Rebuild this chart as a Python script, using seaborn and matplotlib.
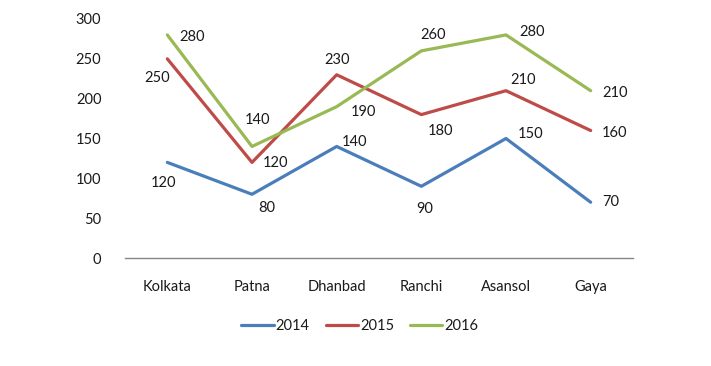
import pandas as pd
import seaborn as sns
import matplotlib.pyplot as plt

# data
cities = ['Kolkata', 'Patna', 'Dhanbad', 'Ranchi', 'Asansol', 'Gaya']
years = ['2014', '2015', '2016']
sales_2014 = [120, 80, 140, 90, 150, 70]
sales_2015 = [250, 120, 230, 180, 210, 160]
sales_2016 = [280, 140, 190, 260, 280, 210]
y_ticks = [0, 50, 100, 150, 200, 250, 300]

colors = ['#4A7EBB', '#BE4B48', '#98B954']

# label offsets in pixels (dx, dy), dy positive = up
label_offsets = {
    '2014': [(-4, -21), (15, -14), (18, 4), (3, -23), (25, 4), (20, 0)],
    '2015': [(-10, -19), (24, -1), (0, 15), (19, -16), (17, 11), (24, -2)],
    '2016': [(25, -2), (6, 26), (27, -5), (12, 16), (26, 3), (24, -2)],
}

df = pd.DataFrame({
    'city': cities * 3,
    'year': [y for y in years for _ in cities],
    'value': sales_2014 + sales_2015 + sales_2016,
})
df['pos'] = df['city'].map({c: i for i, c in enumerate(cities)})

sns.set_style('white')
plt.rcParams['font.family'] = ['Lato', 'DejaVu Sans']

fig = plt.figure(figsize=(7.11, 3.66), dpi=100)
ax = fig.add_axes([125 / 711, 108 / 366, 508 / 711, 239 / 366])

sns.lineplot(data=df, x='pos', y='value', hue='year', palette=colors,
             linewidth=2.3, ax=ax, legend=False)

for year, color in zip(years, colors):
    sub = df[df['year'] == year]
    for (x, v), off in zip(zip(sub['pos'], sub['value']), label_offsets[year]):
        ax.annotate(str(v), (x, v), xytext=off, textcoords='offset pixels',
                    ha='center', va='center', fontsize=10.5, color='#1a1a1a')

ax.set_xlim(-0.5, len(cities) - 0.5)
ax.set_ylim(0, 300)
ax.set_yticks(y_ticks)
ax.set_xticks(range(len(cities)))
ax.set_xticklabels(cities)
ax.set_xlabel('')
ax.set_ylabel('')
ax.tick_params(axis='both', length=0, labelsize=10.5, colors='#1a1a1a')
ax.tick_params(axis='y', pad=17)
ax.tick_params(axis='x', pad=16)
for s in ['top', 'left', 'right']:
    ax.spines[s].set_visible(False)
ax.spines['bottom'].set_color('#868686')
ax.spines['bottom'].set_linewidth(1)

handles = [plt.Line2D([], [], color=c, linewidth=2.3) for c in colors]
fig.legend(handles, years, loc='center', bbox_to_anchor=(360 / 711, 1 - 326 / 366),
           ncol=3, frameon=False, fontsize=10.5, handlelength=2.2,
           handletextpad=0.15, columnspacing=1.1, labelcolor='#1a1a1a')

fig.savefig('out.png', dpi=100)
